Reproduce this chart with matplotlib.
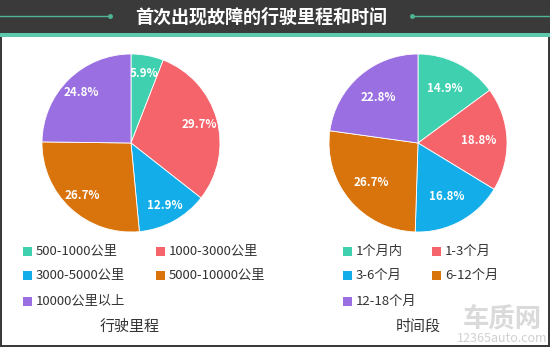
import matplotlib
matplotlib.use("Agg")
import matplotlib.pyplot as plt
from matplotlib.patches import Rectangle
from matplotlib.lines import Line2D

plt.rcParams['font.family'] = ['Noto Sans CJK SC', 'DejaVu Sans']

W, H = 550, 347

title = "首次出现故障的行驶里程和时间"

mileage_labels = ["500-1000公里", "1000-3000公里", "3000-5000公里",
                  "5000-10000公里", "10000公里以上"]
mileage_values = [5.9, 29.7, 12.9, 26.7, 24.8]

time_labels = ["1个月内", "1-3个月", "3-6个月", "6-12个月", "12-18个月"]
time_values = [14.9, 18.8, 16.8, 26.7, 22.8]

colors = ["#3fd0b0", "#f6646b", "#13aee9", "#d9730b", "#9a6fe1"]


def fx(px):
    return px / W


def fy(py):
    return 1 - py / H


fig = plt.figure(figsize=(W / 100, H / 100), dpi=100)
fig.patch.set_facecolor("#3a3a3a")

# white panel + teal band under the header
fig.add_artist(Rectangle((fx(2), fy(345)), fx(546), 309 / H,
                         transform=fig.transFigure, facecolor="white",
                         edgecolor="none", zorder=0))
fig.add_artist(Rectangle((0, fy(37)), 1, 4 / H, transform=fig.transFigure,
                         facecolor="#5ec9aa", edgecolor="none", zorder=1))

# header
fig.text(fx(261), fy(17), title, color="white", fontsize=13,
         fontweight="bold", ha="center", va="center")
for x0, x1 in [(0, 110), (412, 550)]:
    fig.add_artist(Line2D([fx(x0), fx(x1)], [fy(16), fy(16)],
                          transform=fig.transFigure, color="#4db596", lw=1))
for xd in [110, 412]:
    fig.add_artist(Line2D([fx(xd)], [fy(16)], transform=fig.transFigure,
                          marker="o", ms=2.5, color="#4db596"))


def draw_pie(cx, cy, r, values, pctdist):
    ax = fig.add_axes([fx(cx - r), fy(cy + r), 2 * r / W, 2 * r / H])
    wedges, texts, autotexts = ax.pie(
        values, colors=colors, startangle=90, counterclock=False,
        autopct=lambda p: f"{p:.1f}%", pctdistance=pctdist,
        wedgeprops=dict(edgecolor="white", linewidth=0.6),
        textprops=dict(color="white", fontsize=8.3, fontweight="bold"))
    ax.set_xlim(-1, 1)
    ax.set_ylim(-1, 1)
    ax.set_aspect("equal")
    ax.axis("off")
    return ax


draw_pie(131, 143, 89, mileage_values, 0.80)
draw_pie(418, 143, 89, time_values, 0.68)


def draw_legend(labels, col_x, rows_y):
    for i, (lab, c) in enumerate(zip(labels, colors)):
        x = col_x[i % 2]
        y = rows_y[i // 2]
        fig.add_artist(Rectangle((fx(x - 4.5), fy(y + 4.5)), 9 / W, 9 / H,
                                 transform=fig.transFigure, facecolor=c,
                                 edgecolor="none"))
        fig.text(fx(x + 8.5), fy(y), lab, fontsize=9.5, color="#333333",
                 ha="left", va="center")


draw_legend(mileage_labels, [27.5, 160], [251, 275, 301])
draw_legend(time_labels, [347.5, 436.5], [251, 275, 301])

fig.text(fx(130), fy(327), "行驶里程", fontsize=10.8, color="#333333",
         ha="center", va="center")
fig.text(fx(418), fy(327), "时间段", fontsize=10.8, color="#333333",
         ha="center", va="center")

# watermark
fig.text(fx(502), fy(320), "车质网", fontsize=19, color="#dadada",
         ha="center", va="center", fontweight="bold")
fig.text(fx(502), fy(339), "12365auto.com", fontsize=9, color="#d0d0d0",
         ha="center", va="center")

fig.savefig("out.png", dpi=100, facecolor=fig.get_facecolor())
